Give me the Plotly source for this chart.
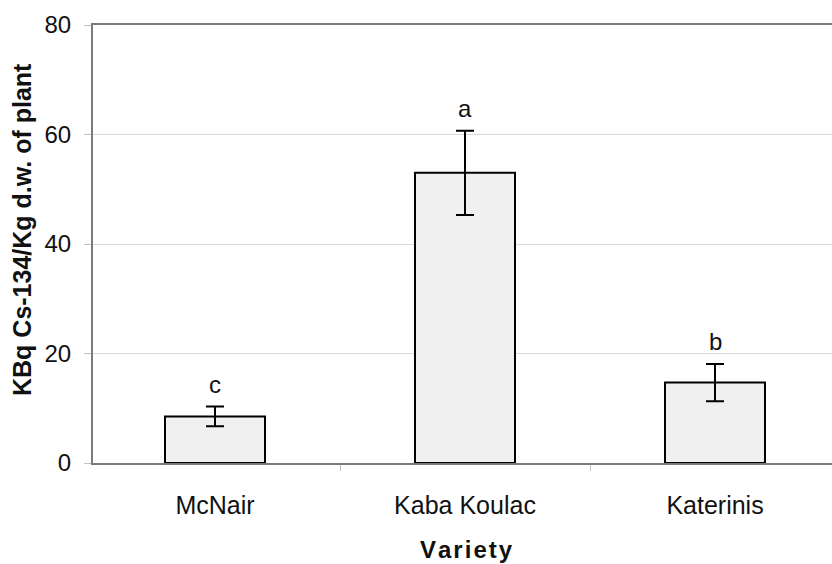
import plotly.graph_objects as go

varieties = ["McNair", "Kaba Koulac", "Katerinis"]
means = [8.5, 53.0, 14.7]
errors = [1.8, 7.7, 3.4]
letters = ["c", "a", "b"]
y_ticks = [0, 20, 40, 60, 80]

FONT = "Liberation Sans, Arial, sans-serif"

fig = go.Figure()
fig.add_trace(go.Bar(
    x=varieties, y=means, width=0.4,
    marker=dict(color="#f0f0f0", line=dict(color="black", width=2)),
    error_y=dict(type="data", array=errors, visible=True,
                 color="black", thickness=2, width=9),
    showlegend=False, hoverinfo="skip",
))

annotations = []
for v, m, e, t in zip(varieties, means, errors, letters):
    annotations.append(dict(x=v, y=m + e, text=t, showarrow=False,
                            yanchor="middle", yshift=22,
                            font=dict(family=FONT, size=24, color="#111")))

annotations.append(dict(xref="paper", yref="paper", x=0, y=0.5, xshift=-71, yshift=14,
                        text="<b>KBq Cs-134/Kg d.w. of plant</b>", textangle=-90,
                        showarrow=False, xanchor="center", yanchor="middle",
                        font=dict(family=FONT, size=25, color="#111")))
annotations.append(dict(xref="paper", yref="paper", x=(466 - 93) / (832 - 93), y=0,
                        yshift=-86, text="<b>" + "&#8202;".join("Variety") + "</b>",
                        showarrow=False, xanchor="center", yanchor="middle",
                        font=dict(family=FONT, size=24, color="#111")))

fig.update_layout(
    width=832, height=564,
    margin=dict(l=93, r=0, t=25, b=101),
    paper_bgcolor="white", plot_bgcolor="white",
    font=dict(family=FONT, size=24, color="#111"),
    annotations=annotations,
)
fig.update_xaxes(
    type="category", range=[-0.488, 2.468],
    showline=True, linecolor="#7a7a7a", linewidth=2, mirror=True,
    ticks="outside", tickson="boundaries", ticklen=6, tickcolor="#c0c0c0",
    ticklabelstandoff=19, showgrid=False,
    tickfont=dict(family=FONT, size=25, color="#111"),
)
fig.update_yaxes(
    range=[0, 80], tickvals=y_ticks,
    showline=True, linecolor="#7a7a7a", linewidth=2, mirror=False,
    ticks="outside", ticklen=7, tickcolor="#c0c0c0",
    ticklabelstandoff=8,
    showgrid=True, gridcolor="#d9d9d9", gridwidth=1, zeroline=False,
    tickfont=dict(family=FONT, size=24, color="#111"),
)

fig.write_html("out.html", config={"displayModeBar": False},
               post_script="document.body.style.margin='0';document.body.style.overflow='hidden';")
